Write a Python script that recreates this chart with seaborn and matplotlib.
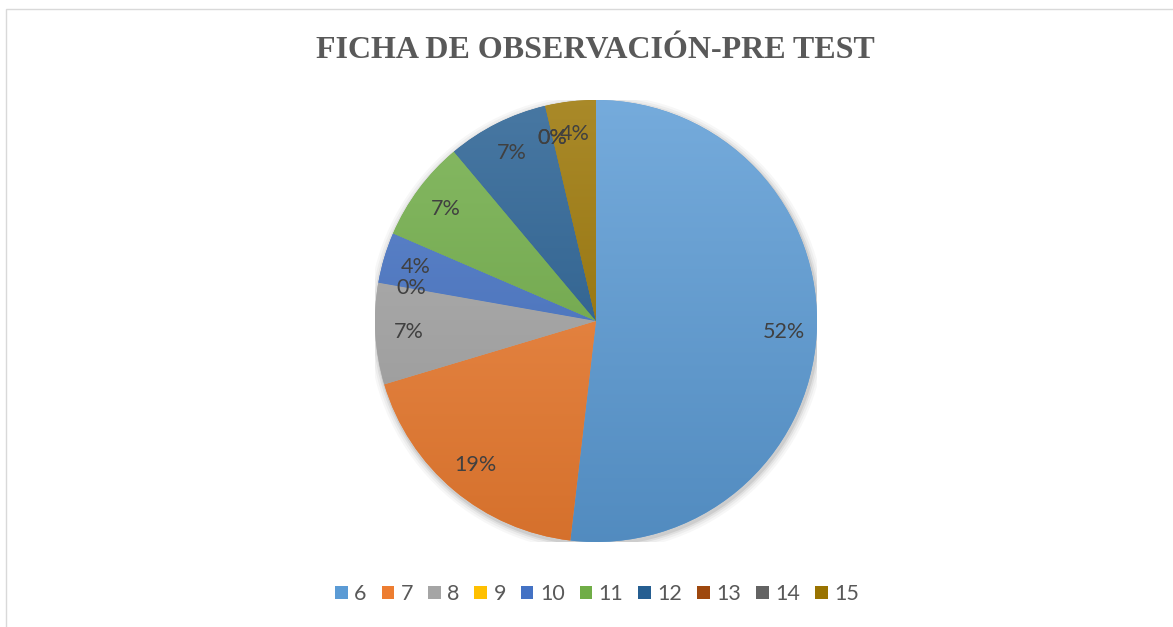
import numpy as np
import matplotlib
matplotlib.use("Agg")
import matplotlib.pyplot as plt
import seaborn as sns
from matplotlib.patches import Rectangle, Circle
from matplotlib.colors import to_rgb

sns.set_theme(style="white")
plt.rcParams['font.family'] = ['Lato', 'DejaVu Sans']

# ---- data ----
categories = ["6", "7", "8", "9", "10", "11", "12", "13", "14", "15"]
counts = [14, 5, 2, 0, 1, 2, 2, 0, 0, 1]
colors = ["#5B9BD5", "#ED7D31", "#A5A5A5", "#FFC000", "#4472C4",
          "#70AD47", "#255E91", "#9E480E", "#636363", "#997300"]
title = "FICHA DE OBSERVACIÓN-PRE TEST"

W, H = 1173, 627
fig = plt.figure(figsize=(W / 100, H / 100), dpi=100)
fig.patch.set_facecolor("white")

# outer frame
fig.add_artist(Rectangle((6 / W, -0.1), 1.2, 1 - 9 / H + 0.1, transform=fig.transFigure,
                         fill=False, edgecolor="#D9D9D9", linewidth=1.0))

cx, cy, r = 596, 321, 221
ax = fig.add_axes([(cx - r) / W, (H - cy - r) / H, 2 * r / W, 2 * r / H])
palette = sns.color_palette(colors)

# soft shadow
for k, a in [(1.035, 0.03), (1.025, 0.04), (1.015, 0.06), (1.007, 0.08)]:
    ax.add_patch(Circle((0.005, -0.01), k, color="#000000", alpha=a, lw=0, zorder=0))

wedges, texts, autotexts = ax.pie(
    counts, colors=palette, startangle=90, counterclock=False, radius=1,
    autopct=lambda p: f"{p:.0f}%", pctdistance=0.85,
    wedgeprops=dict(linewidth=0), textprops=dict(color="#404040", fontsize=15.5))

# vertical gradient fill per wedge
def mix(c, t, f):
    return tuple(np.array(c) * (1 - f) + np.array(t) * f)

yy = np.linspace(1, 0, 256)[:, None]
for w, col in zip(wedges, colors):
    base = np.array(to_rgb(col))
    top = np.array(mix(base, (1, 1, 1), 0.16))
    bot = np.array(mix(base, (0, 0, 0), 0.10))
    img = top[None, None, :] * yy[..., None] + bot[None, None, :] * (1 - yy[..., None])
    img = np.repeat(img, 2, axis=1)
    im = ax.imshow(img, extent=[-1, 1, -1, 1], origin="upper", zorder=1.5,
                   interpolation="bilinear", aspect="auto")
    im.set_clip_path(w)
for t in autotexts:
    t.set_zorder(3)

ax.set_xlim(-1, 1)
ax.set_ylim(-1, 1)
ax.set_aspect("equal")
ax.axis("off")

fig.text(595 / W, 1 - 51 / H, title, ha="center", va="center",
         fontsize=23, fontweight="bold", color="#595959", family="Liberation Serif")

handles = [Rectangle((0, 0), 1, 1, facecolor=c, edgecolor="none") for c in colors]
fig.legend(handles, categories, loc="center", bbox_to_anchor=(597 / W, 1 - 594 / H),
           ncol=10, frameon=False, handlelength=0.58, handleheight=0.58,
           handletextpad=0.3, columnspacing=0.7, fontsize=15.5, labelcolor="#595959")

fig.savefig("out.png", dpi=100, facecolor="white")
